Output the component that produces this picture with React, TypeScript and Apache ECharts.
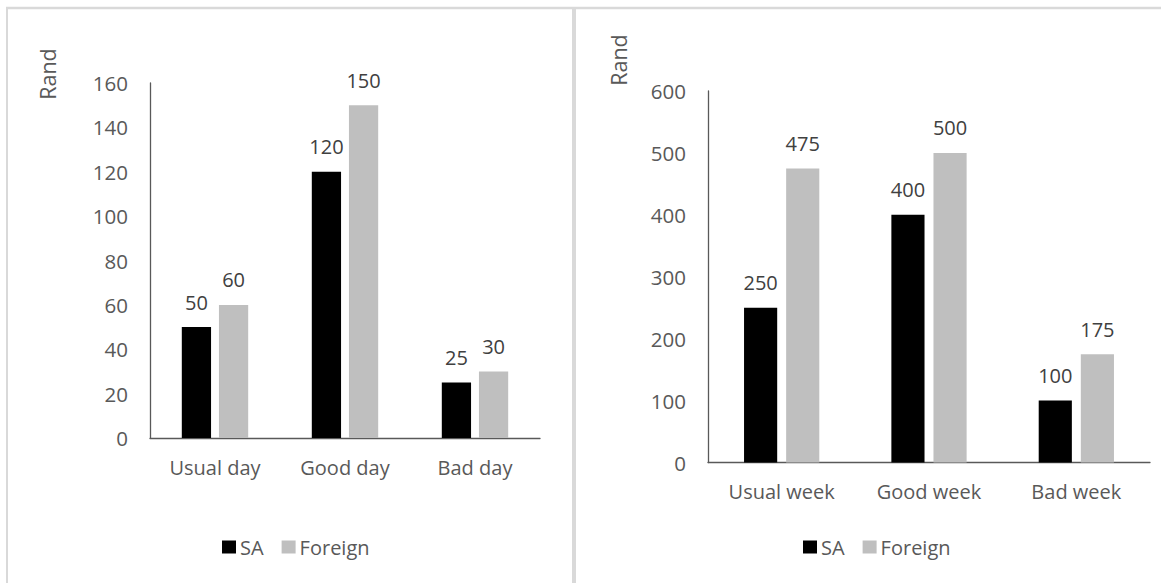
import React, { useEffect, useRef } from "react";
import * as echarts from "echarts";

const dayCategories = ["Usual day", "Good day", "Bad day"];
const daySA = [50, 120, 25];
const dayForeign = [60, 150, 30];

const weekCategories = ["Usual week", "Good week", "Bad week"];
const weekSA = [250, 400, 100];
const weekForeign = [475, 500, 175];

const seriesNames = ["SA", "Foreign"];
const yAxisName = "Rand";

const FONT = "'Open Sans', 'Noto Sans', sans-serif";
const TXT = "#595959";
const BORDER = "#d9d9d9";

export default function App() {
  const ref = useRef<HTMLDivElement>(null);
  useEffect(() => {
    if (!ref.current) return;
    const chart = echarts.init(ref.current, undefined, { renderer: "svg" });
    const labelStyle = {
      show: true,
      position: "top",
      distance: 15,
      color: "#404040",
      fontSize: 20,
      fontFamily: FONT,
    };
    const bar = (name: string, data: number[], idx: number, color: string) => ({
      name,
      type: "bar",
      xAxisIndex: idx,
      yAxisIndex: idx,
      data,
      barWidth: "22.5%",
      barGap: "27%",
      itemStyle: { color },
      label: labelStyle,
    });
    const xAxis = (idx: number, cats: string[]) => ({
      type: "category",
      gridIndex: idx,
      data: cats,
      axisLine: { show: true, lineStyle: { color: "#595959", width: 1.3 } },
      axisTick: { show: false },
      axisLabel: { color: TXT, fontSize: 20, fontFamily: FONT, margin: 19 },
    });
    const yAxis = (idx: number, max: number, interval: number) => ({
      type: "value",
      gridIndex: idx,
      min: 0,
      max,
      interval,
      axisLine: { show: true, lineStyle: { color: "#595959", width: 1.3 } },
      axisTick: { show: false },
      splitLine: { show: false },
      axisLabel: { color: TXT, fontSize: 20.5, fontFamily: FONT, margin: 22 },
    });
    const legend = (left: number) => ({
      left,
      top: 532,
      data: seriesNames,
      icon: "rect",
      itemWidth: 14,
      itemHeight: 13,
      itemGap: 18,
      textStyle: { color: TXT, fontSize: 20, fontFamily: FONT, padding: [0, 0, 0, -1] },
      selectedMode: false,
    });
    chart.setOption({
      animation: false,
      backgroundColor: "#ffffff",
      textStyle: { fontFamily: FONT },
      grid: [
        { left: 150, top: 83, width: 390, height: 355 },
        { left: 708, top: 91, width: 442, height: 371.5 },
      ],
      xAxis: [xAxis(0, dayCategories), xAxis(1, weekCategories)],
      yAxis: [yAxis(0, 160, 20), yAxis(1, 600, 100)],
      legend: [legend(217), legend(798)],
      series: [
        bar(seriesNames[0], daySA, 0, "#000000"),
        bar(seriesNames[1], dayForeign, 0, "#bfbfbf"),
        bar(seriesNames[0], weekSA, 1, "#000000"),
        bar(seriesNames[1], weekForeign, 1, "#bfbfbf"),
      ],
      graphic: [
        { type: "line", shape: { x1: 6, y1: 8, x2: 1161, y2: 8 }, style: { stroke: BORDER, lineWidth: 2.5 } },
        { type: "line", shape: { x1: 7, y1: 8, x2: 7, y2: 583 }, style: { stroke: BORDER, lineWidth: 2 } },
        { type: "line", shape: { x1: 574, y1: 8, x2: 574, y2: 583 }, style: { stroke: BORDER, lineWidth: 4 } },
        {
          type: "text",
          x: 47,
          y: 74,
          rotation: Math.PI / 2,
          style: { text: yAxisName, fill: TXT, fontSize: 21.5, fontFamily: FONT, align: "center", verticalAlign: "middle" },
        },
        {
          type: "text",
          x: 618,
          y: 60,
          rotation: Math.PI / 2,
          style: { text: yAxisName, fill: TXT, fontSize: 21.5, fontFamily: FONT, align: "center", verticalAlign: "middle" },
        },
      ],
    });
    return () => chart.dispose();
  }, []);
  return (
    <div
      ref={ref}
      style={{ position: "absolute", left: 0, top: 0, width: 1161, height: 583 }}
    />
  );
}
